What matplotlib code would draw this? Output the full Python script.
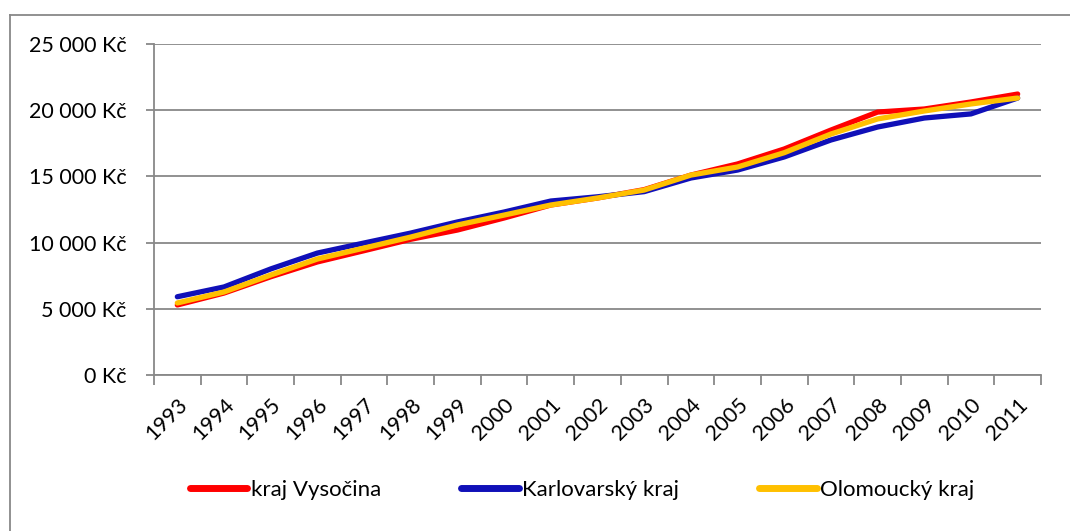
import matplotlib
matplotlib.use("Agg")
import matplotlib.pyplot as plt
from matplotlib.lines import Line2D
from matplotlib.ticker import FuncFormatter, MultipleLocator

years = [str(y) for y in range(1993, 2012)]
vysocina = [5290, 6190, 7420, 8540, 9390, 10250, 10950, 11860, 12840, 13370,
            14000, 15100, 15940, 17070, 18500, 19860, 20090, 20620, 21220]
karlovarsky = [5910, 6650, 8010, 9210, 9970, 10720, 11560, 12310, 13140, 13460,
               13850, 14880, 15480, 16470, 17750, 18730, 19410, 19720, 20920]
olomoucky = [5440, 6270, 7550, 8760, 9590, 10420, 11330, 12080, 12840, 13370,
             13970, 15100, 15710, 16790, 18200, 19340, 19940, 20470, 20920]
series_names = ["kraj Vysočina", "Karlovarský kraj", "Olomoucký kraj"]
colors = ["#FF0000", "#1010B8", "#FFC000"]

plt.rcParams['font.family'] = ['Lato', 'DejaVu Sans']

W, H = 1070, 531
fig = plt.figure(figsize=(W / 100, H / 100), dpi=100)
ax = fig.add_axes([154 / W, 1 - 375 / H, (1041 - 154) / W, (375 - 44) / H])

grid_c = "#888888"
x = list(range(len(years)))
for vals, c, name in zip([vysocina, karlovarsky, olomoucky], colors, series_names):
    ax.plot(x, vals, color=c, lw=3.8, solid_capstyle='round', solid_joinstyle='round', label=name)

ax.set_xlim(-0.5, len(years) - 0.5)
ax.set_ylim(0, 25000)
ax.yaxis.set_major_locator(MultipleLocator(5000))
ax.yaxis.set_major_formatter(FuncFormatter(lambda v, p: (f"{int(v):,}".replace(",", " ") + " Kč")))
ax.grid(axis='y', color=grid_c, lw=1.3)
ax.set_axisbelow(True)

ax.set_xticks([i - 0.5 for i in range(len(years) + 1)], minor=False)
ax.set_xticklabels([])
ax.set_xticks(x, minor=True)
ax.set_xticklabels(years, minor=True, rotation=45, ha='right', va='top', rotation_mode='anchor', fontsize=15.5)
ax.tick_params(axis='x', which='minor', length=0, pad=14)
ax.tick_params(axis='x', which='major', length=7, width=1.3, color=grid_c)
ax.tick_params(axis='y', length=6, width=1.3, color=grid_c, labelsize=15.5, pad=14)
for s in ['top', 'right']:
    ax.spines[s].set_visible(False)
for s in ['left', 'bottom']:
    ax.spines[s].set_color(grid_c)
    ax.spines[s].set_linewidth(1.3)

handles = [Line2D([], [], color=c, lw=5, solid_capstyle='round') for c in colors]
fig.legend(handles, series_names, loc='center', bbox_to_anchor=(582 / W, 1 - 490 / H),
           ncol=3, frameon=False, fontsize=16, handlelength=2.6, handletextpad=0.15,
           columnspacing=3.6)

# outer chart border
fig.add_artist(Line2D([10 / W, 1], [1 - 15 / H, 1 - 15 / H], color=grid_c, lw=1.3, transform=fig.transFigure))
fig.add_artist(Line2D([10 / W, 10 / W], [0, 1 - 15 / H], color=grid_c, lw=1.3, transform=fig.transFigure))

fig.savefig("out.png", dpi=100, facecolor='white')
